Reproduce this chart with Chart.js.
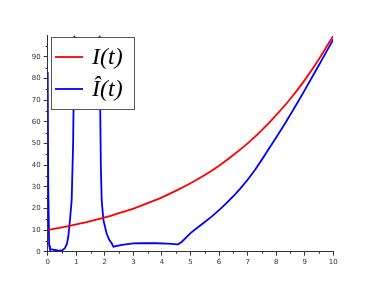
<!DOCTYPE html>
<html><head><meta charset="utf-8">
<script src="https://cdn.jsdelivr.net/npm/chart.js@4/dist/chart.umd.min.js"></script>
<style>html,body{margin:0;padding:0;background:#fff}#w{width:382px;height:288px}</style>
</head><body><div id="w"><canvas id="c" width="382" height="288"></canvas></div>
<script>
const xTicks = [0,1,2,3,4,5,6,7,8,9,10];
const yTicks = [0,10,20,30,40,50,60,70,80,90];
const legendLabels = ['I(t)', 'Î(t)'];
const redT = [0,0.5,1,1.5,2,2.5,3,3.5,4,4.5,5,5.5,6,6.5,7,7.5,8,8.5,9,9.5,10];
const redY = [10,11.2,12.6,14.1,15.8,17.8,19.9,22.4,25.1,28.2,31.6,35.4,39.7,44.6,50.0,56.1,63.0,70.6,79.2,88.9,99.7];
const blueT = [0,0.02,0.05,0.08,0.2,0.35,0.43,0.52,0.6,0.67,0.72,0.78,0.84,0.89,0.93,0.96,1.0,1.78,1.82,1.86,1.89,1.95,2.06,2.15,2.24,2.3,2.6,3.0,3.3,3.8,4.2,4.57,4.7,5.0,5.25,5.5,5.75,6.0,6.25,6.5,6.75,7.0,7.25,7.5,7.75,8.0,8.25,8.5,8.75,9.0,9.25,9.5,9.75,10];
const blueY = [83,30,3,1.2,0.9,0.6,0.5,0.7,1.6,3.5,6.9,14.6,23.9,50,95,140,250,250,90,40,23.9,14.6,8.5,5.6,3.9,2.3,3.2,3.8,4.0,3.9,3.7,3.4,4.6,8.6,11.2,13.7,16.3,19.2,22.3,25.6,29.2,33.2,37.6,42.5,47.6,52.7,57.9,63.3,68.9,74.6,80.4,86.2,92.1,98];

const minorTicks = {
  id:'minorTicks',
  afterDraw(chart){
    const ctx = chart.ctx, xs = chart.scales.x, ys = chart.scales.y;
    ctx.save(); ctx.strokeStyle = '#333'; ctx.lineWidth = 1;
    for (let v = 5; v < 100; v += 10) {
      const p = Math.round(ys.getPixelForValue(v)) + 0.5;
      ctx.beginPath(); ctx.moveTo(xs.left - 2, p); ctx.lineTo(xs.left, p); ctx.stroke();
    }
    for (let v = 0.5; v < 10; v += 1) {
      const p = Math.round(xs.getPixelForValue(v)) + 0.5;
      ctx.beginPath(); ctx.moveTo(p, ys.bottom); ctx.lineTo(p, ys.bottom + 2); ctx.stroke();
    }
    ctx.restore();
  }
};
const boxLegend = {
  id:'boxLegend',
  afterDraw(chart){
    const ctx = chart.ctx;
    ctx.save();
    ctx.fillStyle = '#fff'; ctx.fillRect(51, 37, 84, 72);
    ctx.strokeStyle = '#555'; ctx.lineWidth = 1; ctx.strokeRect(51.5, 37.5, 83, 72);
    const colors = ['#ff0000', '#0000ff'];
    const rows = [57, 89];
    for (let i = 0; i < 2; i++) {
      ctx.strokeStyle = colors[i]; ctx.lineWidth = 1.8;
      ctx.beginPath(); ctx.moveTo(55, rows[i]); ctx.lineTo(83, rows[i]); ctx.stroke();
      ctx.fillStyle = '#000'; ctx.font = 'italic 24px "Liberation Serif"';
      ctx.textBaseline = 'middle'; ctx.textAlign = 'left';
      ctx.fillText(legendLabels[i], 92, rows[i] + 1);
    }
    ctx.restore();
  }
};

new Chart(document.getElementById('c'), {
  type: 'line',
  data: {
    datasets: [
      { label: legendLabels[0], data: redT.map((t,i)=>({x:t,y:redY[i]})), borderColor:'#ff0000', borderWidth:1.8, pointRadius:0, tension:0.4, cubicInterpolationMode:'monotone', fill:false },
      { label: legendLabels[1], data: blueT.map((t,i)=>({x:t,y:blueY[i]})), borderColor:'#0000ff', borderWidth:1.8, pointRadius:0, tension:0, fill:false }
    ]
  },
  options: {
    responsive:false, animation:false, devicePixelRatio:1,
    layout:{ padding:{ left:0, right:48.7, top:35.7, bottom:0 } },
    plugins:{ legend:{display:false}, tooltip:{enabled:false} },
    scales:{
      x:{ type:'linear', min:0, max:10,
        afterBuildTicks(s){ s.ticks = xTicks.map(v=>({value:v})); },
        afterFit(s){ s.height = 36.3; },
        grid:{ drawOnChartArea:false, tickLength:4, color:'#333', tickColor:'#333' },
        border:{ display:true, color:'#333', width:1 },
        ticks:{ font:{size:7, family:'DejaVu Sans'}, color:'#333', padding:2, maxRotation:0 } },
      y:{ type:'linear', min:0, max:99.7,
        afterBuildTicks(s){ s.ticks = yTicks.map(v=>({value:v})); },
        afterFit(s){ s.width = 47.7; },
        grid:{ drawOnChartArea:false, tickLength:4, color:'#333', tickColor:'#333' },
        border:{ display:true, color:'#333', width:1 },
        ticks:{ font:{size:7, family:'DejaVu Sans'}, color:'#333', padding:3 } }
    }
  },
  plugins:[minorTicks, boxLegend]
});
</script></body></html>
